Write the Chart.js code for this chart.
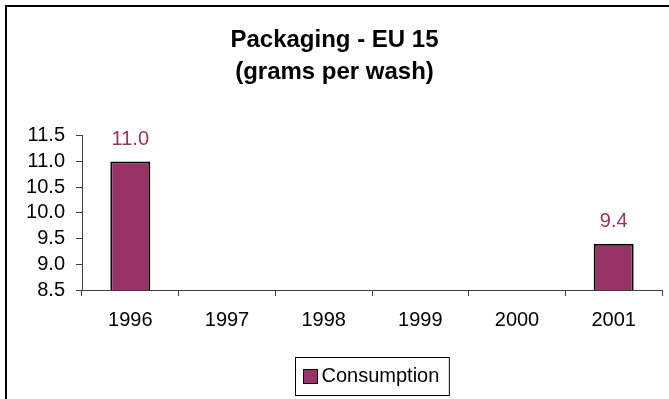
<!DOCTYPE html>
<html>
<head>
<meta charset="utf-8">
<title>Packaging - EU 15</title>
<script src="https://cdn.jsdelivr.net/npm/chart.js@4.4.1/dist/chart.umd.min.js"></script>
<style>
  html, body { margin: 0; padding: 0; background: #fff; }
  canvas { display: block; }
</style>
</head>
<body>
<canvas id="packagingChart" width="669" height="399"></canvas>
<script>
// Packaging consumption, grams per wash (EU 15)
const years = ['1996', '1997', '1998', '1999', '2000', '2001'];
const consumption = [11.0, null, null, null, null, 9.4];
const yTicks = [8.5, 9.0, 9.5, 10.0, 10.5, 11.0, 11.5];

const BAR_COLOR = '#993366';
const FONT = '"Liberation Sans", Arial, sans-serif';

// Frame lines along the top and left edge
const framePlugin = {
    id: 'frame',
    beforeDraw(chart) {
        const ctx = chart.ctx;
        ctx.save();
        ctx.fillStyle = '#fff';
        ctx.fillRect(0, 0, chart.width, chart.height);
        ctx.strokeStyle = '#000';
        ctx.lineWidth = 2;
        ctx.beginPath();
        ctx.moveTo(6, chart.height);
        ctx.lineTo(6, 6);
        ctx.lineTo(chart.width, 6);
        ctx.stroke();
        ctx.restore();
    }
};

// Value labels above each bar
const valueLabels = {
    id: 'valueLabels',
    afterDatasetsDraw(chart) {
        const ctx = chart.ctx;
        const meta = chart.getDatasetMeta(0);
        ctx.save();
        ctx.font = '20px ' + FONT;
        ctx.fillStyle = BAR_COLOR;
        ctx.textAlign = 'center';
        ctx.textBaseline = 'middle';
        meta.data.forEach((bar, i) => {
            const v = consumption[i];
            if (v == null) return;
            ctx.fillText(v.toFixed(1), bar.x, bar.y - 22);
        });
        ctx.restore();
    }
};

// Boxed legend under the x axis
const boxedLegend = {
    id: 'boxedLegend',
    afterDraw(chart) {
        const ctx = chart.ctx;
        const ds = chart.data.datasets[0];
        const area = chart.chartArea;
        ctx.save();
        ctx.font = '20px ' + FONT;
        const textW = ctx.measureText(ds.label).width;
        const w = 8 + 14 + 4 + textW + 10;
        const h = 38;
        const x = Math.round((area.left + area.right) / 2 - w / 2) + 0.5;
        const y = 357.5;
        ctx.strokeStyle = '#000';
        ctx.lineWidth = 1;
        ctx.strokeRect(x, y, w, h);
        ctx.fillStyle = BAR_COLOR;
        ctx.fillRect(x + 8, y + 12, 14, 14);
        ctx.strokeRect(x + 8, y + 12, 14, 14);
        ctx.fillStyle = '#000';
        ctx.textBaseline = 'middle';
        ctx.textAlign = 'left';
        ctx.fillText(ds.label, x + 26, y + h / 2);
        ctx.restore();
    }
};

new Chart(document.getElementById('packagingChart'), {
    type: 'bar',
    data: {
        labels: years,
        datasets: [{
            label: 'Consumption',
            data: consumption,
            backgroundColor: BAR_COLOR,
            borderColor: '#000',
            borderWidth: 2,
            categoryPercentage: 1,
            barPercentage: 0.414
        }]
    },
    options: {
        responsive: false,
        animation: false,
        devicePixelRatio: 1,
        layout: { padding: { left: 7, right: 7, top: 0, bottom: 55 } },
        plugins: {
            legend: { display: false },
            tooltip: { enabled: false },
            title: {
                display: true,
                text: ['Packaging - EU 15', '(grams per wash)'],
                color: '#000',
                font: { family: FONT, size: 24, weight: 'bold', lineHeight: 1.35 },
                padding: { top: 24, bottom: 47 }
            }
        },
        scales: {
            x: {
                grid: {
                    offset: true,
                    drawOnChartArea: false,
                    drawTicks: true,
                    tickLength: 6,
                    color: '#404040'
                },
                border: { color: '#404040', width: 1 },
                ticks: {
                    color: '#000',
                    padding: 12,
                    font: { family: FONT, size: 20 }
                }
            },
            y: {
                min: 8.5,
                max: 11.5,
                afterBuildTicks(axis) {
                    axis.ticks = yTicks.map(v => ({ value: v }));
                },
                afterFit(axis) {
                    axis.width = 75;
                },
                grid: {
                    drawOnChartArea: false,
                    drawTicks: true,
                    tickLength: 6,
                    color: '#404040'
                },
                border: { color: '#404040', width: 1 },
                ticks: {
                    color: '#000',
                    padding: 11,
                    autoSkip: false,
                    font: { family: FONT, size: 20 },
                    callback: v => v.toFixed(1)
                }
            }
        }
    },
    plugins: [framePlugin, valueLabels, boxedLegend]
});
</script>
</body>
</html>
